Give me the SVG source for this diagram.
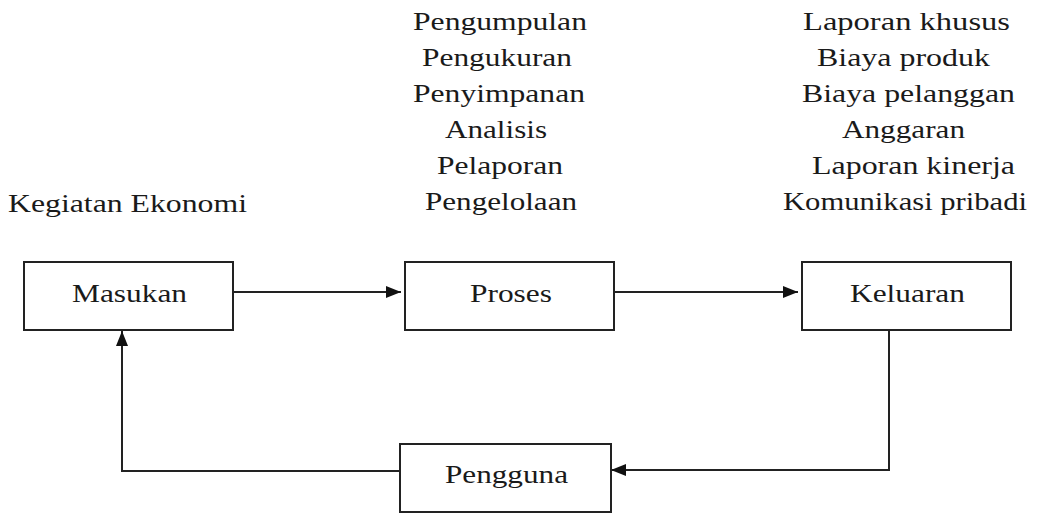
<svg xmlns="http://www.w3.org/2000/svg" width="1041" height="516" viewBox="0 0 1041 516">
<style>
.box{fill:#fff;stroke:#222;stroke-width:2}
.t{font-family:"Liberation Serif","Times New Roman",serif;font-size:25px;fill:#1a1a1a;text-anchor:middle}
.c{fill:none;stroke:#222;stroke-width:2}
</style>
<defs>
<marker id="ah" markerUnits="userSpaceOnUse" markerWidth="16" markerHeight="12" refX="15" refY="6" orient="auto">
<path d="M0,0 L15,6 L0,12 z" fill="#111"/>
</marker>
</defs>
<rect width="1041" height="516" fill="#fff"/>
<g id="labels">
<text class="t" x="127.5" y="212" textLength="239" lengthAdjust="spacingAndGlyphs">Kegiatan Ekonomi</text>
<g id="proses-list">
<text class="t" x="500" y="30" textLength="174" lengthAdjust="spacingAndGlyphs">Pengumpulan</text>
<text class="t" x="497" y="66" textLength="150" lengthAdjust="spacingAndGlyphs">Pengukuran</text>
<text class="t" x="499" y="102" textLength="172" lengthAdjust="spacingAndGlyphs">Penyimpanan</text>
<text class="t" x="496" y="138" textLength="102" lengthAdjust="spacingAndGlyphs">Analisis</text>
<text class="t" x="500" y="174" textLength="126" lengthAdjust="spacingAndGlyphs">Pelaporan</text>
<text class="t" x="501" y="210" textLength="152" lengthAdjust="spacingAndGlyphs">Pengelolaan</text>
</g>
<g id="keluaran-list">
<text class="t" x="906.5" y="30" textLength="207" lengthAdjust="spacingAndGlyphs">Laporan khusus</text>
<text class="t" x="903.5" y="66" textLength="173" lengthAdjust="spacingAndGlyphs">Biaya produk</text>
<text class="t" x="908.5" y="102" textLength="213" lengthAdjust="spacingAndGlyphs">Biaya pelanggan</text>
<text class="t" x="903.5" y="138" textLength="123" lengthAdjust="spacingAndGlyphs">Anggaran</text>
<text class="t" x="913.5" y="174" textLength="203" lengthAdjust="spacingAndGlyphs">Laporan kinerja</text>
<text class="t" x="905" y="210" textLength="244" lengthAdjust="spacingAndGlyphs">Komunikasi pribadi</text>
</g>
</g>
<g id="connectors">
<line class="c" x1="233" y1="292" x2="401" y2="292" marker-end="url(#ah)"/>
<line class="c" x1="614" y1="292" x2="798" y2="292" marker-end="url(#ah)"/>
<polyline class="c" points="889,330 889,470 611,470" marker-end="url(#ah)"/>
<polyline class="c" points="400,471 122,471 122,331" marker-end="url(#ah)"/>
</g>
<g id="masukan">
<rect class="box" x="24" y="262" width="209" height="68"/>
<text class="t" x="129.5" y="302" textLength="115" lengthAdjust="spacingAndGlyphs">Masukan</text>
</g>
<g id="proses">
<rect class="box" x="405" y="262" width="209" height="68"/>
<text class="t" x="511" y="302" textLength="82" lengthAdjust="spacingAndGlyphs">Proses</text>
</g>
<g id="keluaran">
<rect class="box" x="802" y="262" width="209" height="68"/>
<text class="t" x="907.5" y="302" textLength="115" lengthAdjust="spacingAndGlyphs">Keluaran</text>
</g>
<g id="pengguna">
<rect class="box" x="400" y="444" width="211" height="68"/>
<text class="t" x="506.5" y="483" textLength="123" lengthAdjust="spacingAndGlyphs">Pengguna</text>
</g>
</svg>
